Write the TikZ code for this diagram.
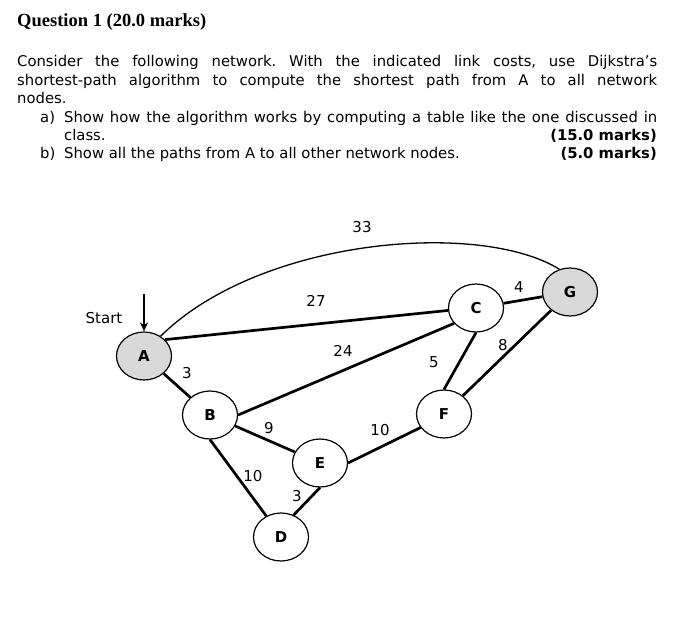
\documentclass[tikz,border=0pt]{standalone}
\usepackage{fontspec}
\setmainfont{DejaVu Sans}
\newfontfamily\titlefont{Liberation Serif}
\usetikzlibrary{shapes.geometric,arrows.meta}
\definecolor{nodegray}{HTML}{D9D9D9}
\frenchspacing
\tikzset{
  netnode/.style={ellipse,draw,line width=1.2pt,minimum width=55pt,minimum height=48pt,inner sep=0pt,font=\fontsize{15}{17}\selectfont\bfseries},
  grey/.style={fill=nodegray},
  link/.style={line width=2.7pt},
  thinlink/.style={line width=1.3pt},
  cost/.style={font=\fontsize{15}{17}\selectfont,inner sep=0pt},
  body/.style={anchor=base west,inner sep=0pt,font=\fontsize{14.8}{17}\selectfont},
  bodyr/.style={anchor=base east,inner sep=0pt,font=\fontsize{14.8}{17}\selectfont\bfseries},
}
\begin{document}
\begin{tikzpicture}[x=1pt,y=-1pt]
\useasboundingbox (0,0) rectangle (699,629);
% text
\node[anchor=base west,inner sep=0pt,font=\titlefont\fontsize{18.5}{20}\selectfont\bfseries] (title) at (17,26) {Question 1 (20.0 marks)};
\node[body] (l1) at (17,66) {\makebox[640pt][s]{Consider the following network. With the indicated link costs, use Dijkstra’s}};
\node[body] (l2) at (17,85) {\makebox[640pt][s]{shortest-path algorithm to compute the shortest path from A to all network}};
\node[body] (l3) at (17,103) {nodes.};
\node[body] (la) at (40,122) {a)};
\node[body] (l4) at (64,122) {\makebox[593pt][s]{Show how the algorithm works by computing a table like the one discussed in}};
\node[body] (l5) at (64,140) {class.};
\node[bodyr] (m1) at (657,140) {(15.0 marks)};
\node[body] (lb) at (40,158) {b)};
\node[body] (l6) at (64,158) {Show all the paths from A to all other network nodes.};
\node[bodyr] (m2) at (657,158) {(5.0 marks)};
% nodes
\node[netnode,grey] (A) at (144,356) {A};
\node[netnode] (B) at (210,415) {B};
\node[netnode] (C) at (476,308) {C};
\node[netnode,grey] (G) at (570,292) {G};
\node[netnode] (F) at (444,414) {F};
\node[netnode] (E) at (320,463) {E};
\node[netnode] (D) at (281,537) {D};
% start
\coordinate (st) at (144,294);
\draw[line width=2.4pt,-{Stealth[length=9pt,width=8pt]}] (st) -- (A.north);
\node[cost] (startlbl) at (104,318) {Start};
% links
\draw[thinlink] (A.50) .. controls (260,238) and (480,220) .. (G.115);
\draw[link] (A.38) -- (C.185);
\draw[link] (A) -- (B);
\draw[link] (B.east) -- (C.215);
\draw[link] (B) -- (E);
\draw[link] (B.south) -- (D.125);
\draw[link] (E.south) -- (D.60);
\draw[link] (E.east) -- (F.210);
\draw[link] (C.south) -- (F.north);
\draw[link] (C) -- (G);
\draw[link] (F) -- (G);
% costs
\node[cost] (c33) at (362,227) {33};
\node[cost] (c27) at (316,301) {27};
\node[cost] (c24) at (343,351) {24};
\node[cost] (c3a) at (187,373) {3};
\node[cost] (c9) at (269,428) {9};
\node[cost] (c10a) at (253,476) {10};
\node[cost] (c3b) at (297,496) {3};
\node[cost] (c10b) at (380,430) {10};
\node[cost] (c5) at (434,362) {5};
\node[cost] (c4) at (519,287) {4};
\node[cost] (c8) at (503,345) {8};
\end{tikzpicture}
\end{document}
